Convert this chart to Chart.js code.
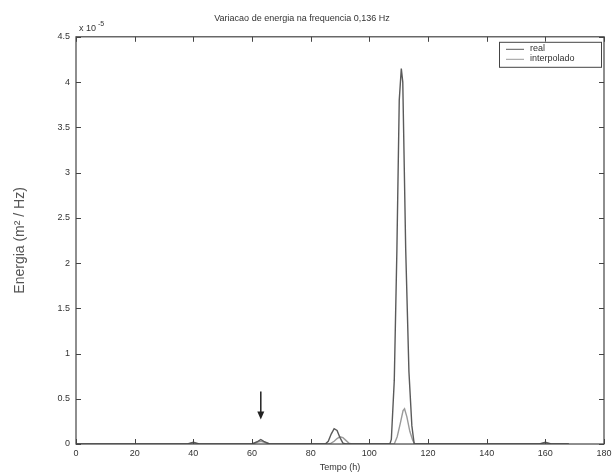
<!DOCTYPE html>
<html><head><meta charset="utf-8">
<script src="https://cdn.jsdelivr.net/npm/chart.js@4/dist/chart.umd.min.js"></script>
<style>html,body{margin:0;padding:0;background:#fff}#wrap{width:613px;height:473px}</style>
</head><body><div id="wrap"><canvas id="c" width="613" height="473"></canvas></div>
<script>
const titleText = 'Variacao de energia na frequencia 0,136 Hz';
const xTitle = 'Tempo (h)';
const yTitle = 'Energia (m\u00B2 / Hz)';
const seriesNames = ['real', 'interpolado'];
const xTicks = [0, 20, 40, 60, 80, 100, 120, 140, 160, 180];
const yTicks = [0, 0.5, 1, 1.5, 2, 2.5, 3, 3.5, 4, 4.5];
// time (h) and energy (x 1e-5 m^2/Hz)
const realTime   = [0, 38, 40, 42, 60, 62, 63, 64, 66, 85, 86, 87, 88, 89, 90, 91, 92, 107, 107.5, 108.5, 109.4, 110.2, 110.9, 111.4, 112.4, 113.5, 114.5, 115.3, 158, 160, 162, 168];
const realValues = [0, 0, 0.02, 0, 0, 0.03, 0.05, 0.03, 0, 0, 0.03, 0.11, 0.17, 0.15, 0.07, 0.01, 0, 0, 0.05, 0.7, 2.15, 3.8, 4.15, 4.0, 2.15, 0.8, 0.2, 0, 0, 0.02, 0, 0];
const interpTime   = [0, 38, 40, 42, 60, 62, 63, 64, 66, 86, 87, 88, 89, 90, 91, 92, 93, 94, 108.5, 109.5, 110.5, 111.5, 112, 112.8, 113.8, 114.8, 115.5, 158, 160, 162, 168];
const interpValues = [0, 0, 0.01, 0, 0, 0.02, 0.03, 0.02, 0, 0, 0.01, 0.03, 0.06, 0.08, 0.07, 0.04, 0.01, 0, 0, 0.08, 0.22, 0.37, 0.39, 0.3, 0.14, 0.04, 0, 0, 0.01, 0, 0];
const arrowAt = {x: 63, from: 0.58, to: 0.27};

const toXY = (t, v) => t.map((x, i) => ({x: x, y: v[i]}));

const framePlugin = {
  id: 'frame',
  afterDatasetsDraw(chart) {
    const {ctx, chartArea: a, scales: {x, y}} = chart;
    ctx.save();
    ctx.strokeStyle = '#444'; ctx.lineWidth = 1.2;
    ctx.strokeRect(a.left, a.top, a.right - a.left, a.bottom - a.top);
    ctx.lineWidth = 1;
    const L = 5;
    xTicks.forEach(v => { const px = Math.round(x.getPixelForValue(v)) + 0.5;
      ctx.beginPath(); ctx.moveTo(px, a.bottom); ctx.lineTo(px, a.bottom - L);
      ctx.moveTo(px, a.top); ctx.lineTo(px, a.top + L); ctx.stroke(); });
    yTicks.forEach(v => { const py = Math.round(y.getPixelForValue(v)) + 0.5;
      ctx.beginPath(); ctx.moveTo(a.left, py); ctx.lineTo(a.left + L, py);
      ctx.moveTo(a.right, py); ctx.lineTo(a.right - L, py); ctx.stroke(); });
    // exponent label
    ctx.fillStyle = '#333'; ctx.font = '9px "Liberation Sans", Arial, sans-serif';
    ctx.textBaseline = 'alphabetic'; ctx.textAlign = 'left';
    ctx.fillText('x 10', a.left + 3, a.top - 6);
    ctx.font = '7px "Liberation Sans", Arial, sans-serif';
    ctx.fillText('-5', a.left + 22, a.top - 11);
    // arrow
    const ax = x.getPixelForValue(arrowAt.x), y1 = y.getPixelForValue(arrowAt.from), y2 = y.getPixelForValue(arrowAt.to);
    ctx.strokeStyle = '#222'; ctx.fillStyle = '#222'; ctx.lineWidth = 1.5;
    ctx.beginPath(); ctx.moveTo(ax, y1); ctx.lineTo(ax, y2 - 6); ctx.stroke();
    ctx.beginPath(); ctx.moveTo(ax - 3.5, y2 - 8); ctx.lineTo(ax + 3.5, y2 - 8); ctx.lineTo(ax, y2); ctx.closePath(); ctx.fill();
    // legend
    const lw = 102, lh = 25, lx = a.right - lw - 3, ly = a.top + 5;
    ctx.fillStyle = '#fff'; ctx.fillRect(lx, ly, lw, lh);
    ctx.strokeStyle = '#444'; ctx.lineWidth = 1; ctx.strokeRect(lx + 0.5, ly + 0.5, lw, lh);
    ctx.font = '9px "Liberation Sans", Arial, sans-serif'; ctx.textBaseline = 'middle';
    chart.data.datasets.forEach((ds, i) => {
      const cy = ly + 7 + i * 10;
      ctx.strokeStyle = ds.borderColor; ctx.lineWidth = 1;
      ctx.beginPath(); ctx.moveTo(lx + 7, cy + 0.5); ctx.lineTo(lx + 25, cy + 0.5); ctx.stroke();
      ctx.fillStyle = '#333'; ctx.fillText(ds.label, lx + 31, cy);
    });
    ctx.restore();
  }
};

new Chart(document.getElementById('c'), {
  type: 'line',
  data: { datasets: [
    { label: seriesNames[0], data: toXY(realTime, realValues), borderColor: '#5a5a5a', borderWidth: 1.4, pointRadius: 0, tension: 0, fill: false },
    { label: seriesNames[1], data: toXY(interpTime, interpValues), borderColor: '#9a9a9a', borderWidth: 1.4, pointRadius: 0, tension: 0, fill: false }
  ]},
  options: {
    responsive: false, animation: false, devicePixelRatio: 1,
    layout: { padding: { left: 0, right: 9, top: 0, bottom: 0 } },
    plugins: {
      legend: { display: false }, tooltip: { enabled: false },
      title: { display: true, text: titleText, color: '#333', font: { family: '"Liberation Sans", Arial, sans-serif', size: 9, weight: 'normal' }, padding: { top: 13, bottom: 13 } }
    },
    scales: {
      x: { type: 'linear', min: 0, max: 180,
        afterBuildTicks: s => { s.ticks = xTicks.map(v => ({value: v})); },
        afterFit: s => { s.height = 29; s.paddingRight = 0; s.paddingLeft = 0; },
        grid: { display: false, drawTicks: false }, border: { display: false },
        ticks: { color: '#333', padding: 4, font: { family: '"Liberation Sans", Arial, sans-serif', size: 9 }, maxRotation: 0 },
        title: { display: true, text: xTitle, color: '#333', padding: { top: 1, bottom: 0 }, font: { family: '"Liberation Sans", Arial, sans-serif', size: 9 } } },
      y: { type: 'linear', min: 0, max: 4.5,
        afterBuildTicks: s => { s.ticks = yTicks.map(v => ({value: v})); },
        afterFit: s => { s.width = 76; },
        grid: { display: false, drawTicks: false }, border: { display: false },
        ticks: { color: '#333', padding: 6, font: { family: '"Liberation Sans", Arial, sans-serif', size: 9 }, callback: v => String(v) },
        title: { display: true, text: yTitle, color: '#555', padding: { top: 12, bottom: 0 }, font: { family: '"Liberation Sans", Arial, sans-serif', size: 14 } } }
    }
  },
  plugins: [framePlugin]
});
</script></body></html>
